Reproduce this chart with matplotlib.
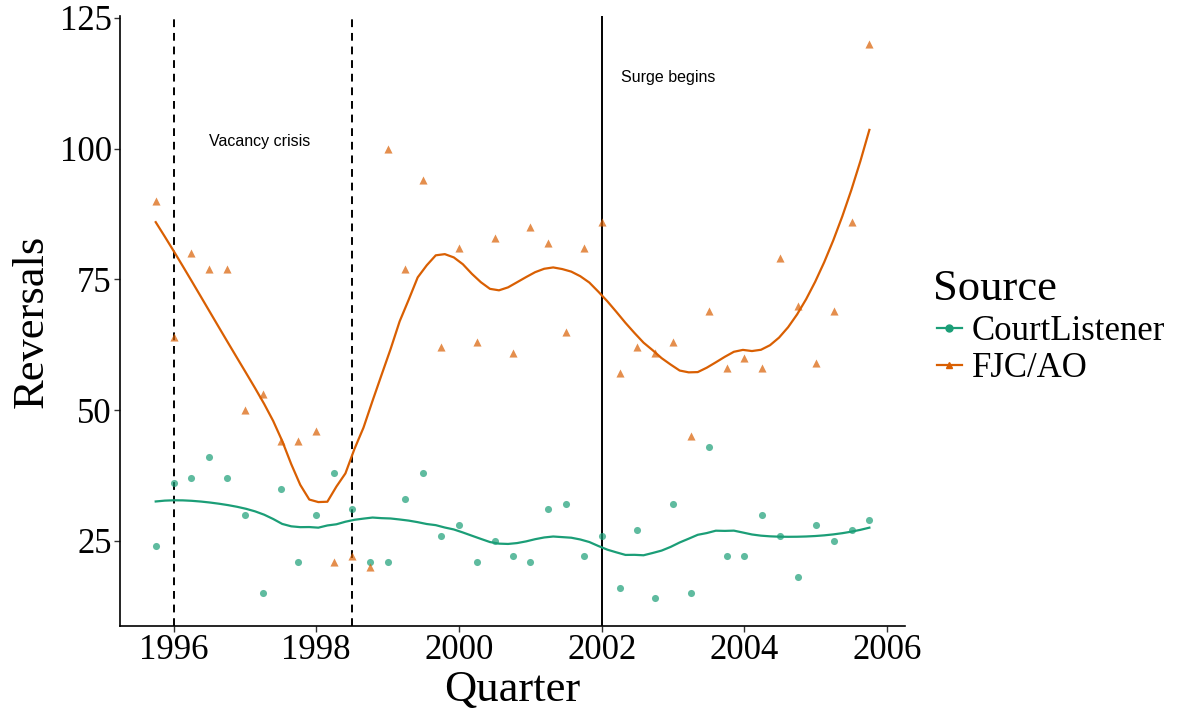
import numpy as np
import matplotlib
matplotlib.use("Agg")
import matplotlib.pyplot as plt
from matplotlib.lines import Line2D

# Quarterly reversal counts, 1995 Q4 through 2005 Q4
quarters = np.arange(1995.75, 2005.76, 0.25)

court_listener = [24, 36, 37, 41, 37, 30, 15, 35, 21, 30, 38, 31, 21, 21, 33, 38,
                  26, 28, 21, 25, 22, 21, 31, 32, 22, 26, 16, 27, 14, 32, 15, 43,
                  22, 22, 30, 26, 18, 28, 25, 27, 29]
fjc_ao = [90, 64, 80, 77, 77, 50, 53, 44, 44, 46, 21, 22, 20, 100, 77, 94,
          62, 81, 63, 83, 61, 85, 82, 65, 81, 86, 57, 62, 61, 63, 45, 69,
          58, 60, 58, 79, 70, 59, 69, 86, 120]

series_names = ["CourtListener", "FJC/AO"]
series_colors = ["#1B9E77", "#D95F02"]
series_markers = ["o", "^"]

event_years = [1996.0, 1998.5, 2002.0]
event_styles = ["dashed", "dashed", "solid"]
event_labels = ["Vacancy crisis", "Surge begins"]
event_label_pos = [(1997.2, 101.3), (2002.93, 113.6)]

x_ticks = [1996, 1998, 2000, 2002, 2004, 2006]
y_ticks = [25, 50, 75, 100, 125]

SPAN = 0.4


def loess(x, y, x_eval, span=0.75, degree=2):
    """Local polynomial regression with tricube weights."""
    x = np.asarray(x, float)
    y = np.asarray(y, float)
    n = len(x)
    q = int(np.floor(n * span))
    out = np.empty(len(x_eval))
    for i, x0 in enumerate(x_eval):
        d = np.abs(x - x0)
        h = np.sort(d)[q - 1]
        u = np.clip(d / h, 0, 1)
        w = (1 - u ** 3) ** 3
        X = np.vander(x - x0, degree + 1, increasing=True)
        W = np.sqrt(w)
        beta, *_ = np.linalg.lstsq(X * W[:, None], y * W, rcond=None)
        out[i] = beta[0]
    return out


serif = ["Liberation Serif", "DejaVu Serif"]
plt.rcParams["font.family"] = serif

fig = plt.figure(figsize=(11.78, 7.11), dpi=100)
ax = fig.add_axes([0.1019, 0.1195, 0.6664, 0.8575])

x_grid = np.linspace(quarters.min(), quarters.max(), 80)
for vals, name, col, mk in zip([court_listener, fjc_ao], series_names,
                               series_colors, series_markers):
    ax.scatter(quarters, vals, s=26 if mk == "o" else 34, marker=mk,
               color=col, alpha=0.7, linewidths=0, zorder=3)
    ax.plot(x_grid, loess(quarters, vals, x_grid, span=SPAN), color=col,
            lw=1.6, zorder=4)

for xv, ls in zip(event_years, event_styles):
    if ls == "dashed":
        ax.axvline(xv, color="black", lw=1.4, linestyle=(0, (4, 3)), zorder=2)
    else:
        ax.axvline(xv, color="black", lw=1.4, zorder=2)

for txt, (tx, ty) in zip(event_labels, event_label_pos):
    ax.text(tx, ty, txt, ha="center", va="center", fontsize=11.5,
            family=["Liberation Sans", "DejaVu Sans"])

ax.set_xlim(1995.25, 2006.25)
ax.set_ylim(8.7, 125.3)
ax.set_xticks(x_ticks)
ax.set_yticks(y_ticks)
ax.tick_params(labelsize=25, length=4, width=1.0, color="#333333", pad=2)
for s in ["top", "right"]:
    ax.spines[s].set_visible(False)
for s in ["left", "bottom"]:
    ax.spines[s].set_linewidth(1.2)

ax.set_xlabel("Quarter", fontsize=32, labelpad=2)
ax.set_ylabel("Reversals", fontsize=32, labelpad=6)

# Legend: title placed as its own text so it sits close to the entries
fig.text(933 / 1178, 1 - 289 / 711, "Source", fontsize=32, ha="left",
         va="center")
handles = [Line2D([0], [0], color=c, marker=m, markersize=5, lw=1.6)
           for c, m in zip(series_colors, series_markers)]
leg = fig.legend(handles, series_names, loc="center left",
                 bbox_to_anchor=(0.7957, 1 - 350 / 711), frameon=False,
                 fontsize=25, handlelength=0.7, handletextpad=0.3,
                 labelspacing=0.1, borderaxespad=0, borderpad=0)

fig.savefig("out.png", dpi=100)
